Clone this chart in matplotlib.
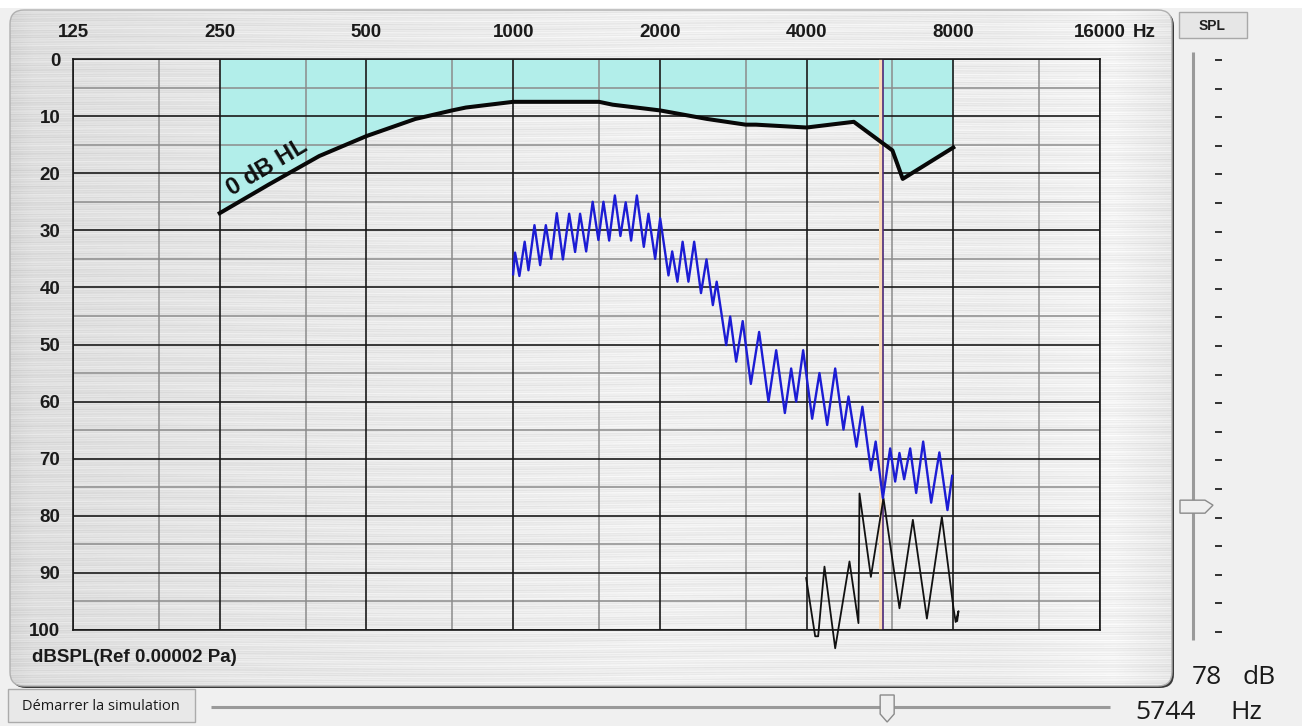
import numpy as np
import matplotlib.pyplot as plt
from matplotlib.patches import FancyBboxPatch, Rectangle, Polygon

W, H = 1302, 726

# axis layout of the audiogram
freq_ticks = [125, 250, 500, 1000, 2000, 4000, 8000, 16000]
freq_labels = ['125', '250', '500', '1000', '2000', '4000', '8000', '16000']
freq_mid = [187.5, 375, 750, 1500, 3000, 6000, 12000]
db_ticks = list(range(0, 101, 10))
db_mid = list(range(5, 100, 10))

# 0 dB HL reference threshold in dB SPL
hl_hz = [250, 315, 400, 500, 630, 750, 800, 1000, 1250, 1500, 1600, 2000,
         2500, 3000, 3150, 4000, 5000, 6000, 6300, 8000]
hl_db = [27, 22, 17, 13.5, 10.5, 9, 8.5, 7.5, 7.5, 7.5, 8, 9,
         10.5, 11.5, 11.5, 12, 11, 16, 21, 15.5]

# blue spectrum
blue_hz = [1000, 1009, 1030, 1056, 1075, 1106, 1136, 1167, 1197, 1229,
           1265, 1303, 1340, 1372, 1412, 1456, 1496, 1532, 1574, 1617,
           1660, 1702, 1746, 1794, 1854, 1895, 1956, 2003, 2083, 2120,
           2173, 2227, 2289, 2352, 2429, 2493, 2569, 2616, 2736, 2788,
           2868, 2958, 3074, 3197, 3341, 3465, 3610, 3719, 3808, 3936,
           4107, 4251, 4409, 4579, 4762, 4876, 5063, 5207, 5420, 5544,
           5736, 5937, 6079, 6204, 6343, 6526, 6713, 6939, 7206, 7491,
           7783, 7958]
blue_db = [37.7, 33.9, 38.0, 32.0, 37.0, 29.1, 36.1, 29.1, 35.0, 27.0,
           35.1, 27.1, 33.8, 27.1, 33.7, 25.0, 31.7, 25.0, 31.8, 23.9,
           31.0, 25.1, 31.8, 23.9, 32.9, 27.1, 35.0, 27.9, 37.9, 33.7,
           39.0, 32.0, 39.0, 32.0, 41.0, 35.1, 43.1, 39.0, 50.1, 45.1,
           53.0, 45.9, 56.9, 47.8, 60.0, 51.0, 62.0, 54.2, 60.0, 51.0,
           63.0, 55.0, 64.1, 54.2, 64.9, 59.1, 67.9, 60.9, 72.0, 67.0,
           76.9, 68.2, 74.0, 69.0, 73.6, 68.2, 76.0, 67.0, 77.7, 68.9,
           79.0, 73.0]

# black spectrum
black_hz = [3992, 4166, 4225, 4353, 4579, 4899, 5111, 5136, 5420, 5752,
            6204, 6609, 7062, 7580, 8008, 8091, 8199, 8150]
black_db = [90.9, 101.1, 101.1, 88.9, 103.2, 88.0, 98.8, 76.1, 90.7, 76.9,
            96.2, 80.7, 98.0, 80.2, 96.2, 98.6, 96.7, 98.4]

# simulator cursor
cursor_hz = 5744
cursor_band = (5620, 5744)
level_db = 78

fig = plt.figure(figsize=(W / 100, H / 100), dpi=100, facecolor='#f0f0f0')

# background / window chrome in pixel coordinates
bg = fig.add_axes([0, 0, 1, 1])
bg.set_xlim(0, W)
bg.set_ylim(H, 0)
bg.axis('off')

bg.add_patch(Rectangle((0, 0), W, 8, fc='white', ec='none', zorder=0.2))

px0, py0, pw, ph = 10, 10, 1162, 676
yy, xx = np.mgrid[0:ph, 0:pw]
u = xx / pw
shade = np.interp(u, [0, 0.02, 0.2, 0.55, 0.85, 0.95, 1],
                  [0.84, 0.87, 0.90, 0.935, 0.925, 0.95, 0.90])
streak = (0.02 * np.sin(yy * 2.7 + 3 * np.sin(xx / 97.0))
          + 0.014 * np.sin(yy * 1.13 + xx / 211.0)
          + 0.009 * np.sin(yy * 0.37 + 2 * np.cos(xx / 150.0)))
tex = np.clip(shade + streak, 0, 1)

shadow = FancyBboxPatch((px0 + 2, py0 + 2), pw, ph,
                        boxstyle='round,pad=0,rounding_size=14',
                        fc='#3a3a3a', ec='none', zorder=0.5)
panel = FancyBboxPatch((px0, py0), pw, ph,
                       boxstyle='round,pad=0,rounding_size=14',
                       fc='none', ec='#b0b0b0', lw=1, zorder=2)
bg.add_patch(shadow)
bg.add_patch(panel)
im = bg.imshow(tex, cmap='gray', vmin=0, vmax=1, aspect='auto',
               extent=(px0, px0 + pw, py0 + ph, py0),
               interpolation='bilinear', zorder=1)
im.set_clip_path(panel)

# SPL button
bg.add_patch(Rectangle((1179, 12), 68, 26, fc='#e6e6e6', ec='#a8a8a8', lw=1))
bg.text(1212, 26, 'SPL', ha='center', va='center', fontsize=10,
        fontweight='bold', family='Liberation Sans', color='#202020')

# vertical level slider
bg.plot([1193, 1193], [52, 640], color='#9a9a9a', lw=2.2, solid_capstyle='butt')
for k in range(21):
    ty = 60 + k * 28.6
    bg.plot([1216, 1221], [ty, ty], color='#303030', lw=1.4)
ty = 60 + level_db / 5 * 28.6
bg.add_patch(Polygon([(1180, ty - 6), (1205, ty - 6), (1213, ty - 1),
                      (1205, ty + 7), (1180, ty + 7)],
                     closed=True, fc='#efefef', ec='#8a8a8a', lw=1, zorder=3))
bg.text(1192, 684, str(level_db), ha='left', va='baseline', fontsize=19,
        family='Open Sans', color='#1a1a1a')
bg.text(1243, 684, 'dB', ha='left', va='baseline', fontsize=19,
        family='Open Sans', color='#1a1a1a')

# bottom frequency slider and button
bg.add_patch(Rectangle((8, 689), 187, 33, fc='#e8e8e8', ec='#ababab', lw=1))
bg.text(101, 706, 'Démarrer la simulation', ha='center', va='center',
        fontsize=10.5, family='Open Sans', color='#1a1a1a')
bg.plot([211, 1110], [707, 707], color='#9a9a9a', lw=2.2, solid_capstyle='butt')
bg.text(1135, 719, str(cursor_hz), ha='left', va='baseline', fontsize=19,
        family='Open Sans', color='#1a1a1a')
bg.text(1230, 719, 'Hz', ha='left', va='baseline', fontsize=19,
        family='Open Sans', color='#1a1a1a')

bg.text(32, 657, 'dBSPL(Ref 0.00002 Pa)', ha='left', va='center',
        fontsize=13.5, fontweight='bold', family='Liberation Sans',
        color='#1a1a1a')

# audiogram axes
ax = fig.add_axes([73 / W, 1 - 630 / H, 1027 / W, 571 / H])
ax.set_facecolor('none')
ax.set_xscale('log', base=2)
ax.set_xlim(125, 16000)
ax.set_ylim(100, 0)

ax.fill_between(hl_hz, 0, hl_db, color='#b2eeea', lw=0, zorder=0.5)

for f in freq_mid:
    ax.axvline(f, color='#8c8c8c', lw=1.1, zorder=1)
for d in db_mid:
    ax.axhline(d, color='#8c8c8c', lw=1.1, zorder=1)
for f in freq_ticks:
    ax.axvline(f, color='#1a1a1a', lw=1.2, zorder=1.2)
for d in db_ticks:
    ax.axhline(d, color='#1a1a1a', lw=1.2, zorder=1.2)

ax.axvspan(cursor_band[0], cursor_band[1], color='#fadcb8', lw=0, zorder=1.5)
ax.axvline(cursor_hz, color='#4b2a7a', lw=1.2, zorder=1.6)

ax.plot(hl_hz, hl_db, color='#080808', lw=2.9, zorder=3,
        solid_joinstyle='round')
ax.plot(blue_hz, blue_db, color='#1c1cd4', lw=1.7, zorder=3.2)
ax.plot(black_hz, black_db, color='#111111', lw=1.3, zorder=3.1, clip_on=False)

ax.text(312, 19.0, '0 dB HL', rotation=31, rotation_mode='anchor',
        ha='center', va='center', fontsize=17, fontweight='bold',
        family='Liberation Sans', color='#101010', zorder=4)

ax.xaxis.tick_top()
ax.set_xticks(freq_ticks)
ax.set_xticklabels(freq_labels)
ax.minorticks_off()
ax.set_yticks(db_ticks)
ax.set_yticklabels([str(d) for d in db_ticks])
ax.tick_params(axis='x', length=0, pad=13, labelsize=13.5, labelcolor='#1a1a1a')
ax.tick_params(axis='y', length=0, pad=9, labelsize=13.5, labelcolor='#1a1a1a')
for lab in ax.get_xticklabels() + ax.get_yticklabels():
    lab.set_fontweight('bold')
    lab.set_family('Liberation Sans')
ax.annotate('Hz', xy=(16000, 0), xycoords='data', xytext=(33, 13 * 100 / 72),
            textcoords='offset pixels', ha='left', va='bottom', fontsize=13.5,
            fontweight='bold', family='Liberation Sans', color='#1a1a1a',
            annotation_clip=False)

for s in ax.spines.values():
    s.set_color('#1a1a1a')
    s.set_linewidth(1.2)

# bottom slider thumb, placed at the cursor frequency
tx = ax.transData.transform((cursor_hz, 0))[0]
tx = bg.transData.inverted().transform((tx, 0))[0] + 4
bg.add_patch(Polygon([(tx - 7, 695), (tx + 7, 695), (tx + 7, 714),
                      (tx, 722), (tx - 7, 714)],
                     closed=True, fc='#efefef', ec='#8a8a8a', lw=1, zorder=3))

fig.savefig('out.png', dpi=100, facecolor=fig.get_facecolor())
